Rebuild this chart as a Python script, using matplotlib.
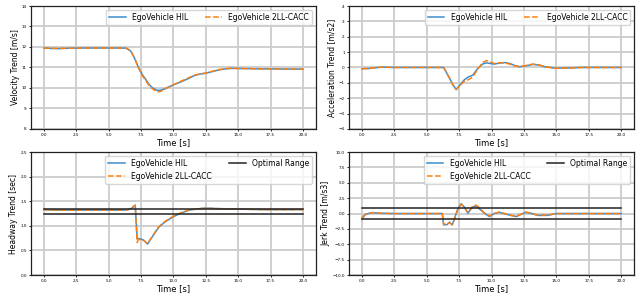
import numpy as np
import matplotlib.pyplot as plt

# velocity [m/s]
t_vel = [0, 0.5, 1, 2, 3, 4, 5, 6, 6.35, 6.7, 7.0, 7.3, 7.6, 7.9, 8.15, 8.4, 8.75, 9.0, 9.3,
         9.7, 10.2, 10.7, 11.2, 11.6, 12.0, 12.5, 13.0, 13.5, 14.0, 14.5, 15, 16, 17, 18, 19, 20]
v_hil = [11.95, 11.93, 11.92, 11.94, 11.95, 11.95, 11.95, 11.95, 11.94, 11.8, 11.45, 11.0, 10.65,
         10.38, 10.15, 10.0, 9.88, 9.89, 9.95, 10.07, 10.2, 10.33, 10.47, 10.6, 10.67, 10.72, 10.8,
         10.88, 10.93, 10.96, 10.95, 10.94, 10.93, 10.93, 10.92, 10.92]
v_cacc = [11.95, 11.94, 11.93, 11.94, 11.95, 11.95, 11.95, 11.95, 11.94, 11.82, 11.45, 10.98, 10.6,
          10.32, 10.1, 9.95, 9.8, 9.83, 9.93, 10.06, 10.22, 10.36, 10.5, 10.62, 10.68, 10.73, 10.81,
          10.89, 10.94, 10.96, 10.95, 10.94, 10.93, 10.93, 10.92, 10.92]

# acceleration [m/s2]
t_acc = [0, 0.5, 1.0, 1.5, 2.5, 4, 6.0, 6.3, 6.7, 7.0, 7.27, 7.5, 7.9, 8.2, 8.55, 8.9, 9.3, 9.6,
         9.9, 10.2, 10.6, 11.0, 11.4, 11.8, 12.15, 12.6, 13.2, 13.7, 14.1, 14.5, 15, 16, 17, 18, 19, 20]
a_hil = [-0.08, -0.07, -0.02, 0.02, 0.0, 0, 0, 0, -0.6, -1.1, -1.45, -1.2, -0.8, -0.62, -0.5, -0.1,
         0.22, 0.3, 0.26, 0.22, 0.28, 0.32, 0.26, 0.12, 0.05, 0.1, 0.2, 0.15, 0.05, 0.0, -0.05, -0.03,
         0, 0, 0, 0]
a_cacc = [-0.08, -0.06, -0.02, 0.02, 0.0, 0, 0, 0, -0.62, -1.12, -1.42, -1.22, -0.9, -0.8, -0.62,
          -0.15, 0.32, 0.45, 0.36, 0.26, 0.3, 0.3, 0.22, 0.1, 0.05, 0.12, 0.22, 0.16, 0.05, 0.0,
          -0.05, -0.03, 0, 0, 0, 0]

# headway [sec]
t_hw = [0, 1, 2, 3, 4, 5, 6, 6.5, 6.8, 7.05, 7.2, 7.3, 7.5, 7.7, 8.0, 8.3, 8.6, 8.9, 9.3, 9.7,
        10.1, 10.6, 11.2, 12.0, 12.5, 13.5, 15, 17, 20]
h_hil = [1.33, 1.32, 1.32, 1.32, 1.32, 1.32, 1.32, 1.33, 1.36, 1.42, 0.75, 0.74, 0.73, 0.71, 0.63,
         0.75, 0.87, 0.98, 1.07, 1.14, 1.2, 1.26, 1.32, 1.35, 1.36, 1.35, 1.34, 1.33, 1.33]
h_cacc = [1.33, 1.32, 1.32, 1.32, 1.32, 1.32, 1.32, 1.33, 1.37, 1.42, 0.66, 0.72, 0.73, 0.7, 0.64,
          0.76, 0.88, 0.99, 1.08, 1.15, 1.21, 1.27, 1.32, 1.35, 1.36, 1.35, 1.34, 1.33, 1.33]
hw_range = [1.25, 1.35]

# jerk [m/s3]
t_jerk = [0, 0.3, 0.8, 1.5, 2.5, 4, 6.2, 6.3, 6.57, 6.75, 6.96, 7.14, 7.4, 7.65, 7.9, 8.17, 8.42,
          8.68, 8.94, 9.2, 9.45, 9.83, 10.2, 10.6, 11.1, 11.5, 11.9, 12.3, 12.66, 13.1, 13.56, 14.3,
          15, 16, 18, 20]
j_hil = [-0.8, -0.1, 0.15, 0.05, 0, 0, 0, -1.85, -1.8, -1.4, -1.87, -0.8, 0.8, 1.6, 1.06, 0.05,
         0.75, 1.2, 1.0, 0.5, 0.05, -0.5, 0.0, 0.2, -0.1, -0.3, -0.5, -0.1, 0.2, 0.0, -0.3, -0.3,
         0, 0, 0, 0]
j_cacc = [-0.6, -0.1, 0.15, 0.05, 0, 0, 0, -1.75, -1.7, -1.5, -1.8, -0.9, 0.7, 1.5, 1.1, 0.15,
          0.9, 1.45, 1.2, 0.6, 0.1, -0.4, 0.0, 0.25, -0.05, -0.3, -0.45, -0.1, 0.25, 0.0, -0.25,
          -0.25, 0, 0, 0, 0]
jerk_range = [-0.9, 0.9]

c_hil = '#3b8fd0'
c_cacc = '#ff7f0e'

fig = plt.figure(figsize=(6.38, 2.93), dpi=100)
boxes = [[0.0486, 0.56, 0.4464, 0.4195], [0.547, 0.56, 0.447, 0.4195],
         [0.0486, 0.0614, 0.4464, 0.4195], [0.547, 0.0614, 0.447, 0.4195]]
axs = [fig.add_axes(b) for b in boxes]

def style(ax, ylabel, ylim, yticks):
    ax.set_xlim(-1, 21)
    ax.set_ylim(*ylim)
    ax.set_xticks(np.arange(0, 20.1, 2.5))
    ax.set_yticks(yticks)
    ax.grid(True, color='#cccccc', linewidth=1.3)
    ax.set_axisbelow(True)
    ax.tick_params(labelsize=3, length=1.5, width=0.6, pad=1.5)
    for s in ax.spines.values():
        s.set_linewidth(0.9)
        s.set_color('#222222')
    ax.set_xlabel('Time [s]', fontsize=6, labelpad=0.5)
    ax.set_ylabel(ylabel, fontsize=5.5, labelpad=1.5)

def add_legend(ax):
    ax.legend(loc='upper right', fontsize=5.5, ncol=2, handlelength=2.2,
              borderpad=0.4, columnspacing=2.2)

ax = axs[0]
ax.plot(t_vel, v_hil, color=c_hil, lw=1.1, label='EgoVehicle HIL')
ax.plot(t_vel, v_cacc, color=c_cacc, lw=1.1, ls='--', label='EgoVehicle 2LL-CACC')
style(ax, 'Velocity Trend [m/s]', (8, 14), np.arange(8, 14.1, 1))
add_legend(ax)

ax = axs[1]
ax.plot(t_acc, a_hil, color=c_hil, lw=1.1, label='EgoVehicle HIL')
ax.plot(t_acc, a_cacc, color=c_cacc, lw=1.1, ls='--', label='EgoVehicle 2LL-CACC')
style(ax, 'Acceleration Trend [m/s2]', (-4, 4), np.arange(-4, 4.1, 1))
add_legend(ax)

ax = axs[2]
ax.plot(t_hw, h_hil, color=c_hil, lw=1.1, label='EgoVehicle HIL')
ax.plot(t_hw, h_cacc, color=c_cacc, lw=1.1, ls='--', label='EgoVehicle 2LL-CACC')
ax.plot([0, 20], [hw_range[1]] * 2, color='#222222', lw=1.1, label='Optimal Range')
ax.plot([0, 20], [hw_range[0]] * 2, color='#222222', lw=1.1)
style(ax, 'Headway Trend [sec]', (0, 2.5), np.arange(0, 2.51, 0.5))
add_legend(ax)

ax = axs[3]
ax.plot(t_jerk, j_hil, color=c_hil, lw=1.1, label='EgoVehicle HIL')
ax.plot(t_jerk, j_cacc, color=c_cacc, lw=1.1, ls='--', label='EgoVehicle 2LL-CACC')
ax.plot([0, 20], [jerk_range[1]] * 2, color='#222222', lw=1.1, label='Optimal Range')
ax.plot([0, 20], [jerk_range[0]] * 2, color='#222222', lw=1.1)
style(ax, 'Jerk Trend [m/s3]', (-10, 10), np.arange(-10, 10.1, 2.5))
add_legend(ax)

fig.savefig('out.png', dpi=100)
